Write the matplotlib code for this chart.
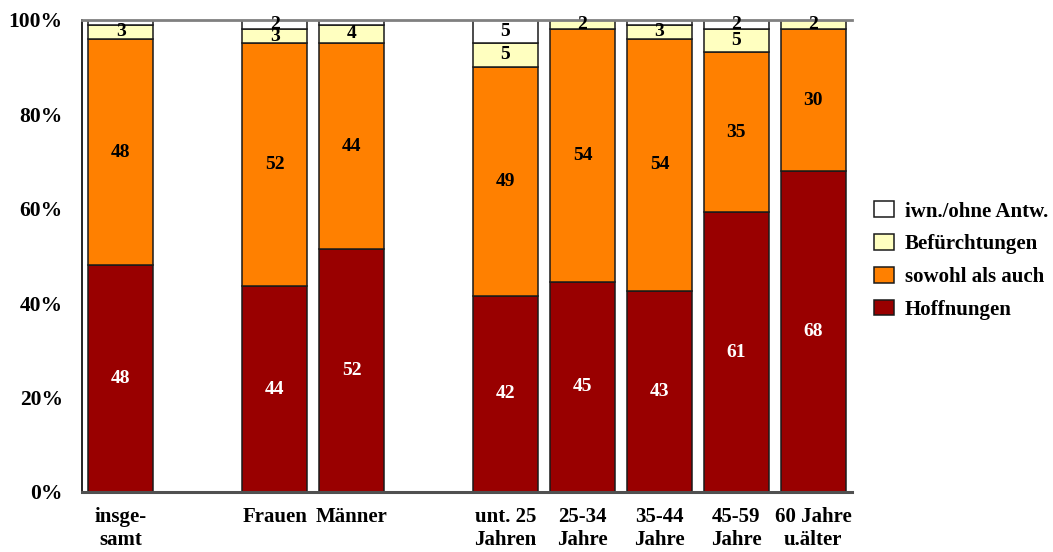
"""Stacked 100% bar chart: Hoffnungen / Befürchtungen by group."""

import matplotlib

matplotlib.use("Agg")
import matplotlib.pyplot as plt  # noqa: E402
import numpy as np

categories = ["insge-\nsamt", "", "Frauen", "Männer", "",
              "unt. 25\nJahren", "25-34\nJahre", "35-44\nJahre", "45-59\nJahre", "60 Jahre\nu.älter"]
hoffnungen = [48, 0, 44, 52, 0, 42, 45, 43, 61, 68]
sowohl = [48, 0, 52, 44, 0, 49, 54, 54, 35, 30]
befuerchtungen = [3, 0, 3, 4, 0, 5, 2, 3, 5, 2]
ohne_antwort = [1, 0, 2, 1, 0, 5, 0, 1, 2, 0]

series = [
    ("Hoffnungen", hoffnungen, "#990000", "white"),
    ("sowohl als auch", sowohl, "#ff8000", "black"),
    ("Befürchtungen", befuerchtungen, "#ffffc0", "black"),
    ("iwn./ohne Antw.", ohne_antwort, "#ffffff", "black"),
]

plt.rcParams["font.family"] = ["Liberation Serif", "DejaVu Serif"]
plt.rcParams["font.weight"] = "bold"

raw = np.array([s[1] for s in series], dtype=float)
totals = raw.sum(axis=0)
shares = np.divide(raw, totals, out=np.zeros_like(raw), where=totals > 0) * 100

fig = plt.figure(figsize=(10.53, 5.52), dpi=100)
ax = fig.add_axes([0.078, 0.109, 0.731, 0.855])
x = np.arange(len(categories))
present = totals > 0
bottom = np.zeros(len(categories))
handles = []
for (name, values, color, txt_color), share in zip(series, shares):
    bars = ax.bar(x[present], share[present], bottom=bottom[present], width=0.85,
                  color=color, edgecolor="#1a1a1a", linewidth=1.1, label=name)
    handles.append(bars)
    for xi, b, h, v in zip(x, bottom, share, values):
        if v >= 2:
            ax.text(xi, b + h / 2, str(v), ha="center", va="center",
                    color=txt_color, fontsize=14, fontweight="bold")
    bottom += share

ax.set_xlim(-0.5, 9.5)
ax.set_ylim(0, 100)
ax.set_yticks(np.arange(0, 101, 20))
ax.set_yticklabels([f"{v}%" for v in range(0, 101, 20)], fontsize=15.5, fontweight="bold")
ax.set_xticks(x)
ax.set_xticklabels(categories, fontsize=15, fontweight="bold", linespacing=1.2, va="top")
ax.tick_params(axis="both", length=0)
ax.tick_params(axis="x", pad=11)
ax.tick_params(axis="y", pad=14)
ax.spines["right"].set_visible(False)
ax.spines["top"].set_color("#808080")
ax.spines["top"].set_linewidth(2)
ax.spines["left"].set_linewidth(1.2)
ax.spines["bottom"].set_color("#505050")
ax.spines["bottom"].set_linewidth(2.2)

ax.legend(handles[::-1], [s[0] for s in series][::-1], loc="center left",
          bbox_to_anchor=(1.005, 0.49), frameon=False, fontsize=15,
          handlelength=0.95, handleheight=0.8, handletextpad=0.5, labelspacing=0.6)

fig.savefig("out.png", dpi=100)
plt.close(fig)
